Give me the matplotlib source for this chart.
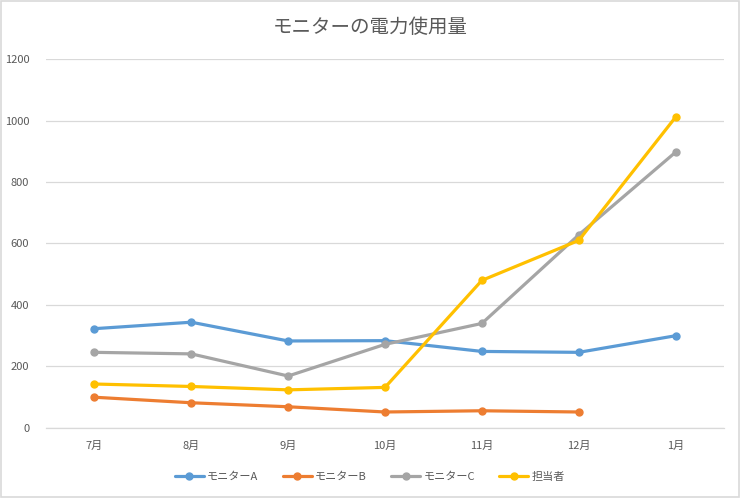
import matplotlib
matplotlib.use("Agg")
import matplotlib.pyplot as plt
from matplotlib.patches import Rectangle
import numpy as np

plt.rcParams["font.family"] = ["Noto Sans CJK JP", "DejaVu Sans"]

# --- data ---
months = ["7月", "8月", "9月", "10月", "11月", "12月", "1月"]
monitor_a = [323, 344, 283, 284, 249, 246, 300]
monitor_b = [100, 82, 69, 52, 56, 52, np.nan]
monitor_c = [246, 241, 169, 272, 340, 628, 897]
tantousha = [143, 135, 124, 132, 480, 610, 1011]

series_names = ["モニターA", "モニターB", "モニターC", "担当者"]
series_values = [monitor_a, monitor_b, monitor_c, tantousha]
series_colors = ["#5B9BD5", "#ED7D31", "#A5A5A5", "#FFC000"]

y_ticks = [0, 200, 400, 600, 800, 1000, 1200]

text_color = "#595959"
grid_color = "#D9D9D9"

fig = plt.figure(figsize=(7.4, 4.98), dpi=100)
ax = fig.add_axes([0.0622, 0.1406, 0.9162, 0.7409])

x = np.arange(len(months))
for name, vals, color in zip(series_names, series_values, series_colors):
    ax.plot(x, vals, color=color, linewidth=2.3, marker="o", markersize=5,
            label=name, solid_capstyle="round")

ax.set_xlim(-0.5, len(months) - 0.5)
ax.set_ylim(0, 1200)
ax.set_xticks(x)
ax.set_xticklabels(months)
ax.set_yticks(y_ticks)
ax.tick_params(axis="both", length=0, labelsize=8, colors=text_color)
ax.tick_params(axis="x", pad=9)
ax.tick_params(axis="y", pad=12)

ax.grid(axis="y", color=grid_color, linewidth=0.9)
ax.set_axisbelow(True)
for side in ["top", "right", "left"]:
    ax.spines[side].set_visible(False)
ax.spines["bottom"].set_color(grid_color)
ax.spines["bottom"].set_linewidth(0.9)

fig.text(0.5, 0.945, "モニターの電力使用量", ha="center", va="center",
         fontsize=14, color=text_color)

leg = fig.legend(loc="center", bbox_to_anchor=(0.5, 0.042), ncol=4,
                 frameon=False, fontsize=8, handlelength=2.6,
                 handletextpad=0.3, columnspacing=2.2)
for t in leg.get_texts():
    t.set_color(text_color)

fig.patches.append(Rectangle((0.002, 0.002), 0.996, 0.996, transform=fig.transFigure,
                             fill=False, edgecolor=grid_color, linewidth=1.2))

fig.savefig("out.png", dpi=100)
